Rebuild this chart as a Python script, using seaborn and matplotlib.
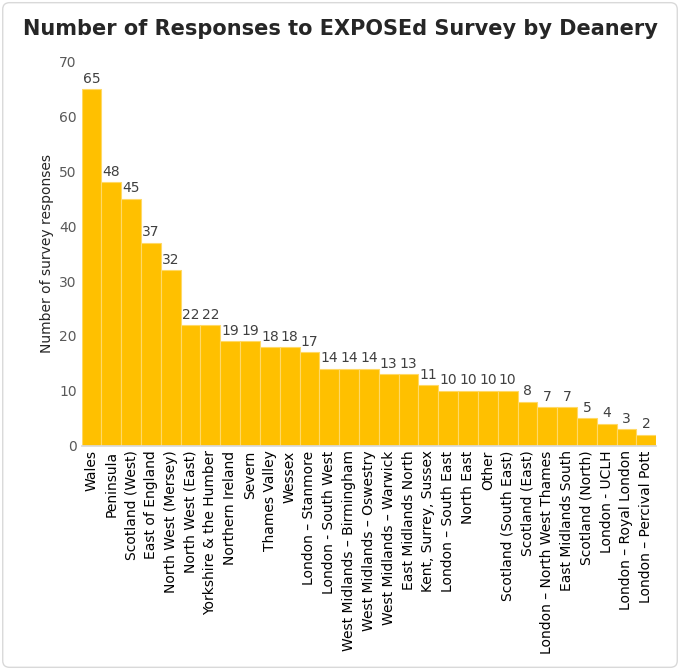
import matplotlib
matplotlib.use("Agg")
import matplotlib.pyplot as plt
import seaborn as sns
import pandas as pd
from matplotlib.patches import FancyBboxPatch

categories = ["Wales", "Peninsula", "Scotland (West)", "East of England", "North West (Mersey)",
              "North West (East)", "Yorkshire & the Humber", "Northern Ireland", "Severn",
              "Thames Valley", "Wessex", "London \u2013 Stanmore", "London - South West",
              "West Midlands \u2013 Birmingham", "West Midlands \u2013 Oswestry",
              "West Midlands \u2013 Warwick", "East Midlands North", "Kent, Surrey, Sussex",
              "London \u2013 South East", "North East", "Other", "Scotland (South East)",
              "Scotland (East)", "London \u2013 North West Thames", "East Midlands South",
              "Scotland (North)", "London - UCLH", "London \u2013 Royal London",
              "London \u2013 Percival Pott"]
values = [65, 48, 45, 37, 32, 22, 22, 19, 19, 18, 18, 17, 14, 14, 14, 13, 13, 11,
          10, 10, 10, 10, 8, 7, 7, 5, 4, 3, 2]

sns.set_theme(style="white")
plt.rcParams['font.family'] = ['DejaVu Sans']
df = pd.DataFrame({"cat": categories, "val": values})

fig = plt.figure(figsize=(6.8, 6.7), dpi=100)
ax = fig.add_axes([0.12, 0.335, 0.845, 0.573])
sns.barplot(data=df, x="cat", y="val", color="#FFC000", saturation=1, width=1.0,
            edgecolor="#FFD966", linewidth=0.8, ax=ax)
for i, v in enumerate(values):
    ax.text(i, v + 0.6, str(v), ha="center", va="bottom", fontsize=10, color="#404040")
ax.set_ylim(0, 70)
ax.set_xlim(-0.5, len(values) - 0.5)
ax.set_yticks(range(0, 71, 10))
ax.tick_params(axis="y", labelsize=10, labelcolor="#595959", length=0)
ax.tick_params(axis="x", labelsize=10, labelcolor="black", length=0, rotation=90)
ax.set_xlabel("")
ax.set_ylabel("Number of survey responses", fontsize=10)
for s in ["top", "right", "left"]:
    ax.spines[s].set_visible(False)
ax.spines["bottom"].set_color("#D9D9D9")
fig.text(0.5, 0.957, "Number of Responses to EXPOSEd Survey by Deanery",
         ha="center", va="center", fontsize=15, fontweight="bold")
fig.patches.append(FancyBboxPatch((0.004, 0.004), 0.992, 0.992, boxstyle="round,pad=0,rounding_size=0.01",
                                  transform=fig.transFigure, fill=False, edgecolor="#D9D9D9", linewidth=1))
fig.savefig("out.png", dpi=100)
